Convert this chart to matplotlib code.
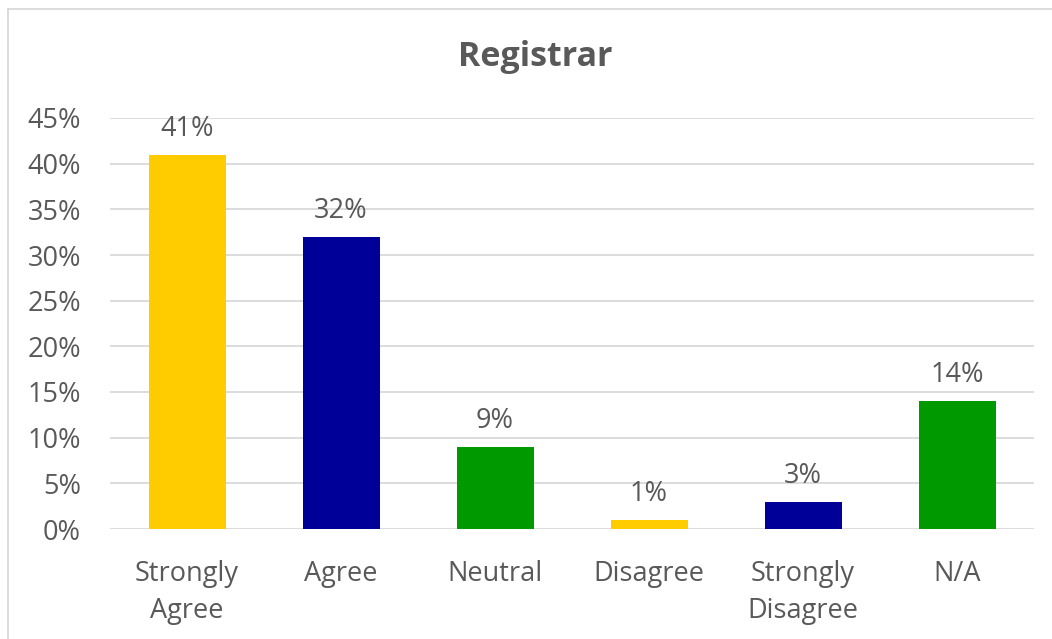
import matplotlib.pyplot as plt
from matplotlib.lines import Line2D
from matplotlib.ticker import PercentFormatter

categories = ['Strongly\nAgree', 'Agree', 'Neutral', 'Disagree', 'Strongly\nDisagree', 'N/A']
values = [41, 32, 9, 1, 3, 14]
colors = ['#FFCC00', '#000099', '#009900', '#FFCC00', '#000099', '#009900']
yticks = [0, 5, 10, 15, 20, 25, 30, 35, 40, 45]

W, H = 1052, 639
fig = plt.figure(figsize=(W / 100, H / 100), dpi=100)
ax = fig.add_axes([110 / W, 1 - 529 / H, (1034 - 110) / W, (529 - 118) / H])

text_color = '#595959'
font = 'Open Sans'
fs = 19.5

x = range(len(values))
ax.bar(x, values, width=0.5, color=colors, zorder=3)
for i, v in enumerate(values):
    ax.text(i, v + 1.3, f'{v}%', ha='center', va='bottom', fontsize=fs,
            color=text_color, family=font)

ax.set_xlim(-0.5, len(values) - 0.5)
ax.set_ylim(0, 45)
ax.set_yticks(yticks)
ax.yaxis.set_major_formatter(PercentFormatter(decimals=0))
ax.set_xticks(list(x))
ax.set_xticklabels(categories, linespacing=1.45)
ax.grid(axis='y', color='#d9d9d9', linewidth=1.3, zorder=0)
for s in ax.spines.values():
    s.set_visible(False)
ax.tick_params(length=0, labelsize=fs, labelcolor=text_color)
ax.tick_params(axis='y', pad=21)
ax.tick_params(axis='x', pad=22)
for lab in ax.get_xticklabels() + ax.get_yticklabels():
    lab.set_family(font)

fig.text(535 / W, 1 - 57 / H, 'Registrar', ha='center', va='center', fontsize=24.5,
         fontweight='bold', color=text_color, family=font)

# chart border (left and top edges visible)
fig.add_artist(Line2D([8 / W, 8 / W], [0, 1 - 9 / H], color='#d9d9d9', lw=1.3))
fig.add_artist(Line2D([8 / W, 1], [1 - 9 / H, 1 - 9 / H], color='#d9d9d9', lw=1.3))

fig.savefig('out.png', dpi=100)
